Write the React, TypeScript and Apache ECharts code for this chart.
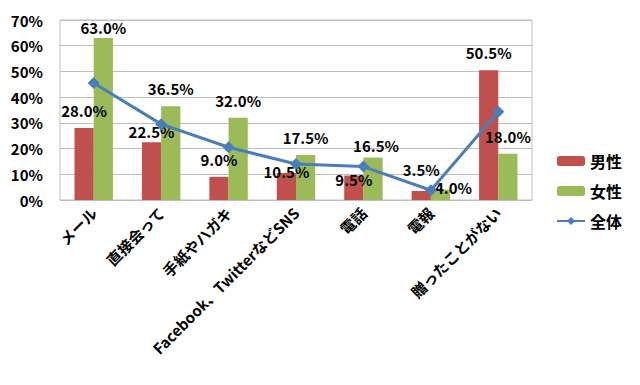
import React, { useEffect, useRef } from "react";
import * as echarts from "echarts";

const categories = ["メール", "直接会って", "手紙やハガキ", "Facebook、TwitterなどSNS", "電話", "電報", "贈ったことがない"];
const maleValues = [28.0, 22.5, 9.0, 10.5, 9.5, 3.5, 50.5];
const femaleValues = [63.0, 36.5, 32.0, 17.5, 16.5, 4.0, 18.0];
const totalValues = [45.5, 29.5, 20.5, 14.0, 13.0, 3.8, 34.3];

// label nudges (style only): [dx, dy] per category
const maleLabelNudge = [[0, 0], [0, 7], [0, 0], [0, 16], [0, 21], [0, -4], [0, 0]];
const femaleLabelNudge = [[0, 7], [0, 0], [0, 0], [0, 0], [3, 5], [13, 15], [0, 0]];

const FONT = "'Noto Sans CJK JP', 'Noto Sans', sans-serif";

export default function App() {
  const ref = useRef<HTMLDivElement>(null);
  useEffect(() => {
    if (!ref.current) return;
    const chart = echarts.init(ref.current, undefined, { renderer: "svg" });
    const labelStyle = {
      show: true,
      position: "top" as const,
      distance: 10,
      fontFamily: FONT,
      fontWeight: "bold" as const,
      fontSize: 15,
      color: "#000",
      formatter: (p: any) => Number(p.value).toFixed(1) + "%",
    };
    const withNudge = (vals: number[], nudges: number[][]) =>
      vals.map((v, i) => ({ value: v, label: { offset: nudges[i] } }));
    chart.setOption({
      animation: false,
      backgroundColor: "#fff",
      textStyle: { fontFamily: FONT },
      grid: { left: 60, right: 108, top: 20, bottom: 185, show: true, borderColor: "#bfbfbf", borderWidth: 1 },
      legend: {
        orient: "vertical",
        left: 551,
        top: 148,
        itemWidth: 28,
        itemHeight: 10,
        itemGap: 14,
        textStyle: { fontFamily: FONT, fontWeight: "bold", fontSize: 16, color: "#000" },
        data: ["男性", "女性", "全体"],
      },
      xAxis: {
        type: "category",
        data: categories,
        axisLine: { lineStyle: { color: "#bfbfbf" } },
        axisTick: { show: false },
        axisLabel: {
          rotate: 45,
          interval: 0,
          margin: 10,
          fontFamily: FONT,
          fontWeight: "bold",
          fontSize: 15,
          color: "#000",
        },
      },
      yAxis: {
        type: "value",
        min: 0,
        max: 70,
        interval: 10,
        axisLine: { show: false },
        axisTick: { show: false },
        splitLine: { lineStyle: { color: "#bfbfbf", width: 1 } },
        axisLabel: {
          formatter: "{value}%",
          margin: 17,
          fontFamily: FONT,
          fontWeight: "bold",
          fontSize: 15,
          color: "#000",
        },
      },
      series: [
        {
          name: "男性",
          type: "bar",
          data: withNudge(maleValues, maleLabelNudge),
          barGap: "0%",
          barCategoryGap: "43%",
          itemStyle: { color: "#c0504d" },
          label: labelStyle,
        },
        {
          name: "女性",
          type: "bar",
          data: withNudge(femaleValues, femaleLabelNudge),
          itemStyle: { color: "#9bbb59" },
          label: labelStyle,
        },
        {
          name: "全体",
          type: "line",
          data: totalValues,
          symbol: "diamond",
          symbolSize: 12,
          lineStyle: { color: "#4a7ebb", width: 3 },
          itemStyle: { color: "#4a7ebb" },
          z: 5,
        },
      ],
    });
    return () => chart.dispose();
  }, []);
  return <div ref={ref} style={{ position: "absolute", left: 0, top: 0, width: 640, height: 385 }} />;
}
